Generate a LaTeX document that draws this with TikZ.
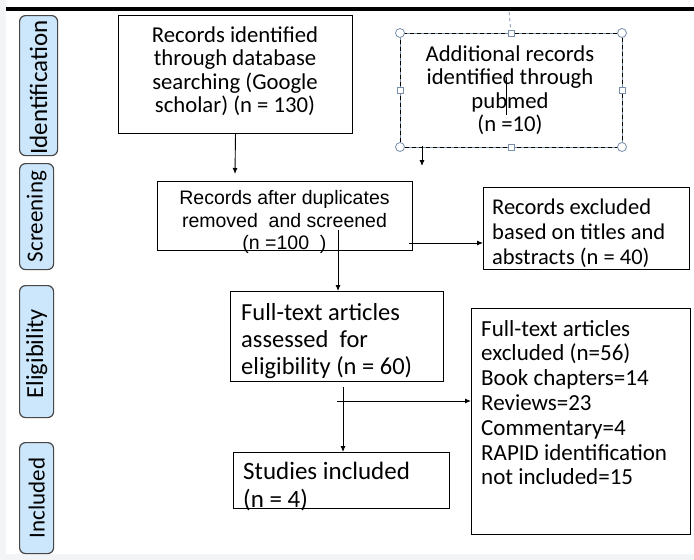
\documentclass[tikz,border=0pt]{standalone}
\usepackage{fontspec}
\setmainfont{Carlito}
\newfontfamily\arialf{Liberation Sans}
\usetikzlibrary{arrows.meta}
\definecolor{lblue}{RGB}{204,231,252}
\definecolor{handlecol}{RGB}{120,142,172}
\definecolor{bggray}{RGB}{243,244,246}
\begin{document}
\begin{tikzpicture}[x=1pt,y=-1pt,
  box/.style={draw=black,line width=1pt,inner sep=0pt,anchor=north west},
  lbl/.style={draw=black!72,fill=lblue,rounded corners=6pt,line width=1.2pt,inner sep=0pt,anchor=north west},
  lbltxt/.style={rotate=90,inner sep=0pt},
  arr/.style={-{Latex[length=6pt,width=5pt]},line width=0.9pt},
  hcirc/.style={circle,draw=handlecol,fill=white,line width=0.8pt,minimum size=9pt,inner sep=0pt},
  hsq/.style={rectangle,draw=handlecol,fill=white,line width=0.8pt,minimum size=6pt,inner sep=0pt},
]
\useasboundingbox (0,0) rectangle (694,560);
\fill[bggray] (0,0) rectangle (694,560);
\fill[white] (6,0) rectangle (694,554);
\draw[line width=4pt] (6,9) -- (694,9);

% stage labels
\node[lbl,minimum width=38pt,minimum height=140pt] (l1) at (19,15) {};
\node[lbltxt,font=\fontsize{25}{28}\selectfont] (lt1) at ([yshift=-2pt]l1.center) {Identification};
\node[lbl,minimum width=34pt,minimum height=106pt] (l2) at (19,163) {};
\node[lbltxt,font=\fontsize{23}{26}\selectfont] (lt2) at (l2.center) {Screening};
\node[lbl,minimum width=34pt,minimum height=132pt] (l3) at (19,285) {};
\node[lbltxt,font=\fontsize{24.5}{28}\selectfont] (lt3) at ([yshift=-2pt]l3.center) {Eligibility};
\node[lbl,minimum width=34pt,minimum height=111pt] (l4) at (19,442) {};
\node[lbltxt,font=\fontsize{23}{26}\selectfont] (lt4) at (l4.center) {Included};

% boxes
\node[box,minimum width=234pt,minimum height=118pt] (b1) at (118,15) {};
\node[box,draw=none,minimum width=221pt,minimum height=113pt] (b2) at (400,33) {};
\draw[handlecol,line width=0.8pt] (b2.north west) rectangle (b2.south east);
\draw[black,line width=0.8pt,dash pattern=on 4pt off 3pt] (b2.north west) rectangle (b2.south east);
\node[box,minimum width=255pt,minimum height=69pt] (b3) at (157,181) {};
\node[box,minimum width=206pt,minimum height=82pt] (b4) at (483,187) {};
\node[box,minimum width=213pt,minimum height=90pt] (b5) at (230,291) {};
\node[box,minimum width=219pt,minimum height=226pt] (b6) at (471,308) {};
\node[box,minimum width=216pt,minimum height=56pt] (b7) at (233,452) {};

% selection handles of box 2
\coordinate (htop) at (509,11);
\draw[handlecol,dashed,line width=0.8pt] (b2.north) -- (htop);
\foreach \a/\n in {north west/hc1,north east/hc2,south west/hc3,south east/hc4}
  \node[hcirc] (\n) at (b2.\a) {};
\foreach \a/\n in {north/hs1,south/hs2,west/hs3,east/hs4}
  \node[hsq] (\n) at (b2.\a) {};

% texts
\node[inner sep=0pt,align=center,font=\fontsize{22.7}{23.5}\selectfont] (t1) at (235,71)
  {Records identified\\through database\\searching (Google\\scholar) (n = 130)};
\node[inner sep=0pt,align=center,font=\fontsize{22.7}{23.5}\selectfont] (t2) at (510,90)
  {Additional records\\identified through\\pubmed\\(n =10)};
\draw[line width=0.7pt] (506,77) -- (506,115);
\node[inner sep=0pt,align=center,font=\arialf\fontsize{19.5}{22.5}\selectfont] (t3) at (284.5,222)
  {Records after duplicates\\removed\ \ and screened\\(n =100\ \ )};
\node[inner sep=0pt,align=left,anchor=west,font=\fontsize{22.5}{25}\selectfont] (t4) at (492,233)
  {Records excluded\\based on titles and\\abstracts (n = 40)};
\node[inner sep=0pt,align=left,anchor=west,font=\fontsize{24.5}{27}\selectfont] (t5) at (241,341)
  {Full-text articles\\assessed\ \ for\\eligibility (n = 60)};
\node[inner sep=0pt,align=left,anchor=west,font=\fontsize{23}{24.8}\selectfont] (t6) at (481,402.5)
  {Full-text articles\\excluded (n=56)\\Book chapters=14\\Reviews=23\\Commentary=4\\RAPID identification\\not included=15};
\node[inner sep=0pt,align=left,anchor=west,font=\fontsize{25}{28}\selectfont] (t7) at (243,487)
  {Studies included\\(n = 4)};

% connectors
\coordinate (e1) at (235,174);
\draw[arr] (b1.south) -- (e1);
\coordinate (s2) at (422,146);
\coordinate (e2) at (422,166);
\draw[arr] (s2) -- (e2);
\coordinate (s3) at (338,230);
\draw[arr] (s3) -- (s3 |- b5.north);
\coordinate (s4) at (409,243);
\draw[arr] (s4) -- (s4 -| b4.west);
\coordinate (s5) at (343,387);
\draw[arr] (s5) -- (s5 |- b7.north);
\coordinate (s6) at (337,401);
\draw[arr] (s6) -- (s6 -| b6.west);
\end{tikzpicture}
\end{document}
